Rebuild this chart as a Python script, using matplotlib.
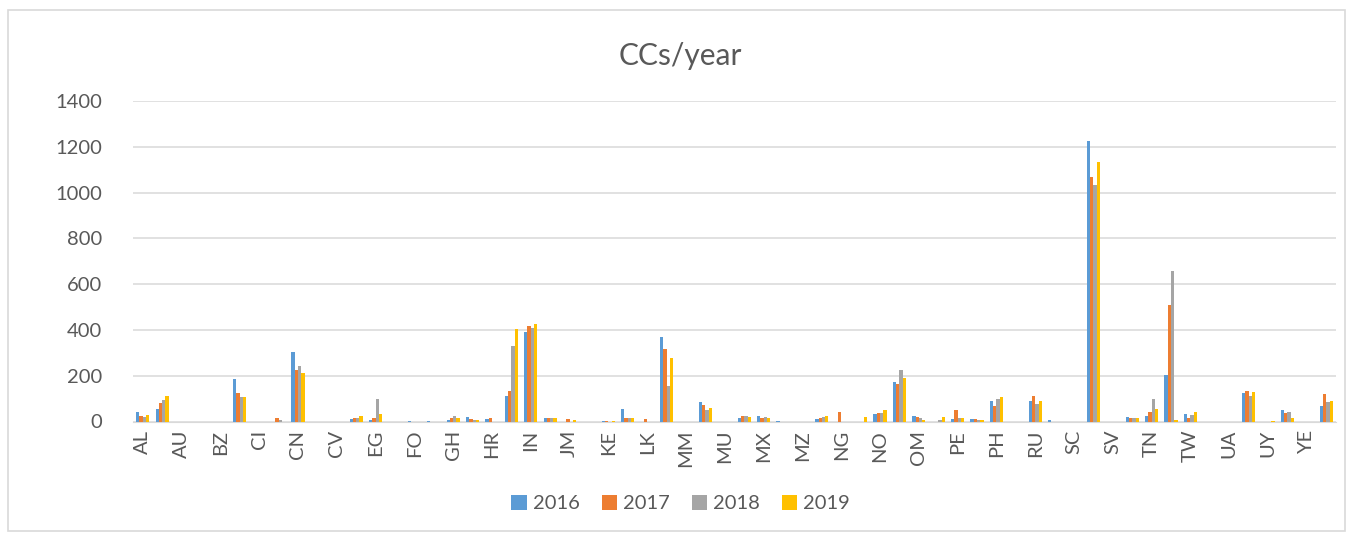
import matplotlib
matplotlib.use('Agg')
import matplotlib.pyplot as plt
import numpy as np
from matplotlib.patches import Rectangle

# every second category carries a visible label
tick_labels = ['AL', 'AU', 'BZ', 'CI', 'CN', 'CV', 'EG', 'FO', 'GH', 'HR', 'IN', 'JM', 'KE', 'LK',
               'MM', 'MU', 'MX', 'MZ', 'NG', 'NO', 'OM', 'PE', 'PH', 'RU', 'SC', 'SV', 'TN', 'TW',
               'UA', 'UY', 'YE']
years = ['2016', '2017', '2018', '2019']

v2016 = [43, 53, 0, 0, 0, 184, 0, 0, 302, 0, 0, 10, 6, 0, 3, 2, 5, 18, 11, 113, 392, 14, 0, 0,
         3, 53, 0, 370, 0, 86, 0, 14, 24, 3, 0, 10, 0, 0, 31, 174, 24, 0, 12, 9, 91, 0, 91, 5,
         0, 1226, 0, 21, 25, 203, 33, 0, 0, 123, 0, 50, 0, 68]
v2017 = [24, 82, 0, 0, 0, 126, 0, 16, 225, 0, 0, 15, 14, 0, 0, 0, 14, 12, 17, 132, 417, 14, 10, 0,
         3, 14, 9, 315, 0, 72, 0, 24, 14, 0, 0, 14, 43, 0, 36, 162, 18, 0, 50, 12, 68, 0, 111, 0,
         0, 1069, 0, 14, 43, 511, 14, 0, 0, 133, 0, 38, 0, 119]
v2018 = [18, 94, 0, 0, 0, 106, 0, 5, 242, 0, 0, 15, 99, 0, 0, 0, 25, 7, 0, 331, 407, 14, 0, 0,
         0, 14, 0, 155, 0, 50, 0, 25, 20, 0, 0, 20, 0, 0, 35, 225, 15, 5, 15, 5, 97, 0, 76, 0,
         0, 1033, 0, 17, 97, 658, 28, 0, 0, 111, 0, 43, 0, 84]
v2019 = [28, 113, 0, 0, 0, 106, 0, 0, 213, 0, 0, 25, 31, 0, 0, 0, 15, 5, 0, 402, 426, 14, 6, 0,
         3, 15, 0, 276, 0, 57, 0, 18, 17, 0, 0, 24, 0, 21, 50, 188, 8, 18, 15, 5, 108, 0, 89, 0,
         0, 1135, 0, 17, 53, 5, 43, 0, 0, 127, 3, 14, 0, 89]

colors = ['#5B9BD5', '#ED7D31', '#A5A5A5', '#FFC000']
text_col = '#595959'
plt.rcParams['font.family'] = ['Lato', 'DejaVu Sans']

fig = plt.figure(figsize=(13.53, 5.34), dpi=100)
fig.patches.append(Rectangle((8 / 1353, 3 / 534), 1337 / 1353, 521 / 534, transform=fig.transFigure,
                             fill=False, edgecolor='#D9D9D9', linewidth=1.2))
ax = fig.add_axes([133 / 1353, 1 - 421.5 / 534, 1203 / 1353, 320.5 / 534])

x = np.arange(len(v2016))
w = 0.17
for i, (vals, col, yr) in enumerate(zip([v2016, v2017, v2018, v2019], colors, years)):
    ax.bar(x + (i - 1.5) * w, vals, width=w, color=col, label=yr, zorder=3)

ax.set_xlim(-0.5, len(x) - 0.5)
ax.set_ylim(0, 1400)
ax.set_yticks(range(0, 1401, 200))
ax.set_xticks(x[::2])
ax.set_xticklabels(tick_labels, rotation=90)
ax.tick_params(axis='both', length=0, labelsize=14.5, colors=text_col)
ax.tick_params(axis='y', pad=22)
ax.tick_params(axis='x', pad=6)
ax.grid(axis='y', color='#D9D9D9', linewidth=1.1, zorder=0)
for s in ['top', 'right', 'left']:
    ax.spines[s].set_visible(False)
ax.spines['bottom'].set_color('#D9D9D9')

fig.text(0.503, 0.895, 'CCs/year', ha='center', va='center', fontsize=21.5, color=text_col)
fig.legend(loc='center', bbox_to_anchor=(0.503, 0.057), ncol=4, frameon=False, fontsize=14.5,
           labelcolor=text_col, handlelength=0.75, handleheight=0.75, handletextpad=0.3,
           columnspacing=1.1)

plt.savefig('out.png', dpi=100)
